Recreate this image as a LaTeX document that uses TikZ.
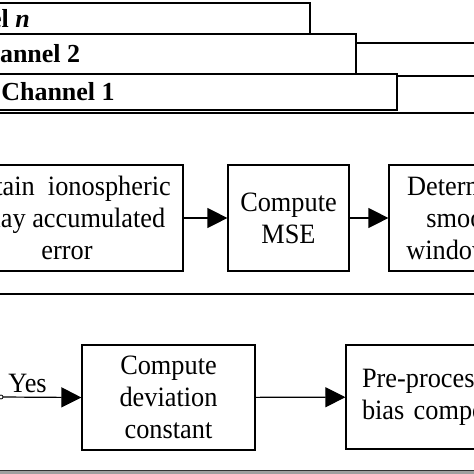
\documentclass[tikz,border=0pt]{standalone}
\usepackage{fontspec}
\setmainfont{Liberation Serif}
\newfontfamily\narrowserif{Liberation Serif}[FakeStretch=0.94]
\usetikzlibrary{arrows.meta}
\begin{document}
\begin{tikzpicture}[x=1pt,y=-1pt,
  blk/.style={draw,fill=white,line width=1.2pt,inner sep=0pt,align=center,font=\narrowserif\fontsize{28}{32}\selectfont},
  chan/.style={draw,fill=white,line width=1.2pt,inner sep=0pt,font=\fontsize{26}{30}\selectfont\bfseries},
  arr/.style={line width=1.2pt,-{Triangle[length=20pt,width=20pt]}}]
\useasboundingbox (0,0) rectangle (474,474);
\clip (0,0) rectangle (474,474);
%channels
\draw[line width=1.2pt] (356,43) -- (474,43);
\draw[line width=1.2pt] (397,76) -- (474,76);
\draw[line width=1.2pt] (0,113) -- (474,113);
\node[chan,minimum width=675pt,minimum height=31pt] (chn) at (-27.5,18.5) {Channel \textit{n}};
\node[chan,minimum width=665pt,minimum height=40pt] (chtwo) at (23.5,54) {Channel 2};
\node[chan,minimum width=678pt,minimum height=36pt] (chone) at (58,92) {Channel 1};

%smoothing window
\node[blk,minimum width=232pt,minimum height=106pt] (obtain) at (67,218) {Obtain\ \ ionospheric\\delay accumulated\\error};
\node[blk,minimum width=121pt,minimum height=106pt] (mse) at (288.5,218) {Compute\\MSE};
\node[blk,minimum width=186pt,minimum height=106pt] (window) at (482,218) {Determine the\\smoothing\\window width};
\draw[arr] (obtain) -- (mse);
\draw[arr] (mse) -- (window);
\draw[line width=1.2pt] (0,294) -- (474,294);

%deviation
\coordinate (yesdot) at (1,397);
\node[blk,minimum width=173pt,minimum height=105pt] (dev) at (168.5,397.5) {Compute\\deviation\\constant};
\node[blk,minimum height=104pt,text width=200pt,inner xsep=16pt,align=left] (bias) at (462,397) {Pre-processing\\bias component};
\draw[arr] (yesdot) -- node[pos=.33,above,font=\narrowserif\fontsize{28}{32}\selectfont]{Yes} (dev.west);
\draw[arr] (dev) -- (bias);
\draw[line width=.8pt,fill=white] (yesdot) circle (2pt);
\fill[gray!75] (0,470) rectangle (474,474);
\draw[line width=1.2pt,black!80] (0,470.5) -- (474,470.5);
\end{tikzpicture}
\end{document}
